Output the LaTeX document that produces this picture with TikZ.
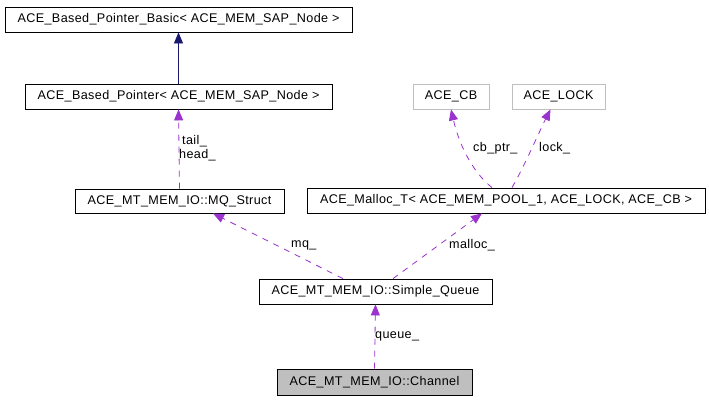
\documentclass[tikz,border=0pt]{standalone}
\usepackage{fontspec}
\setmainfont{Liberation Sans}[LetterSpace=3]
\usetikzlibrary{arrows.meta,calc}
\definecolor{edgepurple}{HTML}{9A32CD}
\definecolor{edgenavy}{HTML}{191970}
\definecolor{boxgray}{HTML}{BFBFBF}
\tikzset{
  cls/.style={draw=black, rectangle, inner sep=0pt, font=\fontsize{12.6}{14}\selectfont, line width=0.8pt},
  extcls/.style={cls, draw=boxgray},
  curcls/.style={cls, fill=boxgray},
  usage/.style={draw=edgepurple, line width=0.8pt, dash pattern=on 6pt off 6pt, -{Triangle[length=11pt,width=9pt,fill=edgepurple]}},
  inherit/.style={draw=edgenavy, line width=0.8pt, -{Triangle[length=11pt,width=9pt,fill=edgenavy]}},
  lbl/.style={font=\fontsize{12.6}{14}\selectfont, inner sep=0pt, anchor=west}
}
\begin{document}
\begin{tikzpicture}[x=1pt,y=-1pt]
\useasboundingbox[fill=white] (0,0) rectangle (709,400);
\node[cls, minimum width=347pt, minimum height=25pt] (bpb) at (178.5,19.5) {ACE\_Based\_Pointer\_Basic< ACE\_MEM\_SAP\_Node >};
\node[cls, minimum width=307pt, minimum height=25pt] (bp) at (178.5,96.5) {ACE\_Based\_Pointer< ACE\_MEM\_SAP\_Node >};
\node[cls, minimum width=209pt, minimum height=24pt] (mq) at (179.5,201) {ACE\_MT\_MEM\_IO::MQ\_Struct};
\node[cls, minimum width=398pt, minimum height=25pt] (mal) at (506,200.5) {ACE\_Malloc\_T< ACE\_MEM\_POOL\_1, ACE\_LOCK, ACE\_CB >};
\node[extcls, minimum width=76pt, minimum height=25pt] (cb) at (451,96.5) {ACE\_CB};
\node[extcls, minimum width=93pt, minimum height=25pt] (lock) at (558.5,96.5) {ACE\_LOCK};
\node[cls, minimum width=233pt, minimum height=25pt] (sq) at (375.5,291.5) {ACE\_MT\_MEM\_IO::Simple\_Queue};
\node[curcls, minimum width=195pt, minimum height=26pt] (ch) at (374.5,382) {ACE\_MT\_MEM\_IO::Channel};

\draw[inherit] (bp.north) -- (bpb.south);
\draw[usage] (mq.north) -- (bp.south);
\draw[usage] ($(mal.north)+(-14,0)$) .. controls (470,170) and (458,140) .. (cb.south);
\draw[usage] ($(mal.north)+(6,0)$) .. controls (525,165) and (540,130) .. ($(lock.south)+(-8,0)$);
\draw[usage] ($(sq.north)+(-32.5,0)$) -- ($(mq.south)+(33.5,0)$);
\draw[usage] ($(sq.north)+(17.5,0)$) -- ($(mal.south)+(-24,0)$);
\draw[usage] (ch.north) -- (sq.south);

\node[lbl] (l1) at (182,141) {tail\_};
\node[lbl] (l2) at (179,155) {head\_};
\node[lbl] (l3) at (473,148) {cb\_ptr\_};
\node[lbl] (l4) at (539,148) {lock\_};
\node[lbl] (l5) at (291,245) {mq\_};
\node[lbl] (l6) at (449,245) {malloc\_};
\node[lbl] (l7) at (375,336) {queue\_};
\end{tikzpicture}
\end{document}
